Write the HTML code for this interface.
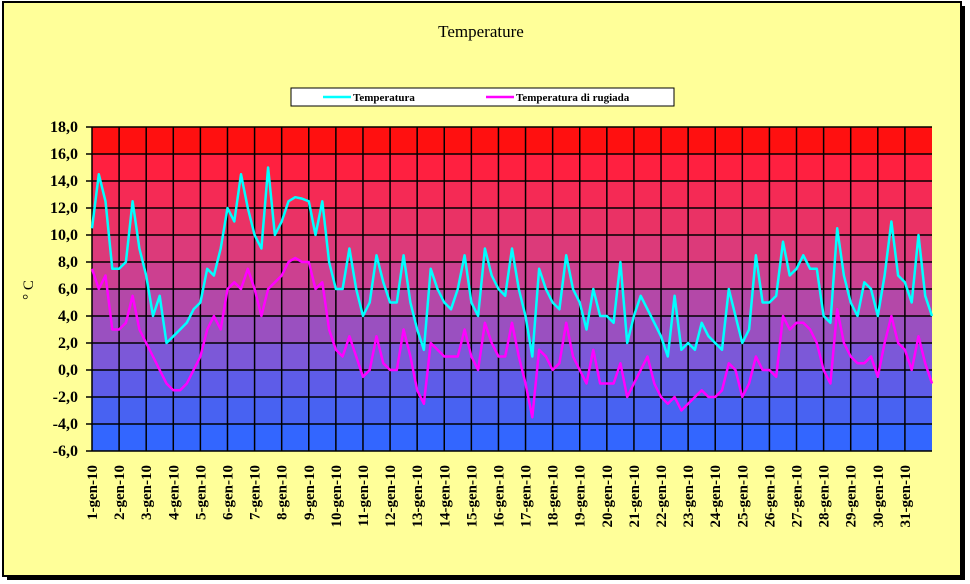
<!DOCTYPE html>
<html><head><meta charset="utf-8"><style>
body{margin:0;background:#fff;}
svg{display:block;font-family:"Liberation Serif",serif;}
</style></head><body>
<svg id="chart" width="970" height="584">
<rect x="7" y="6" width="958" height="574" fill="#000"/>
<rect x="3" y="2" width="958" height="574" fill="#ffff99" stroke="#000" stroke-width="2"/>
<text x="481" y="37" text-anchor="middle" font-size="17">Temperature</text>
<g>
<rect x="291" y="88" width="383" height="18" fill="#fff" stroke="#000"/>
<g><line x1="323" y1="97" x2="351" y2="97" stroke="#00ffff" stroke-width="2.5"/><text x="353" y="101" font-size="11" font-weight="bold">Temperatura</text></g>
<g><line x1="486" y1="97" x2="514" y2="97" stroke="#ff00ff" stroke-width="2.5"/><text x="516" y="101" font-size="11" font-weight="bold">Temperatura di rugiada</text></g>
</g>
<g id="bg"></g>
<g id="grid"></g>
<g id="series"></g>
<g id="yaxis"></g>
<g id="xaxis"></g>
<text transform="translate(33,290) rotate(-90)" text-anchor="middle" font-size="15">° C</text>
</svg>
<script>
const yTicks=[18,16,14,12,10,8,6,4,2,0,-2,-4,-6];
const dayLabels=[];for(let d=1;d<=31;d++)dayLabels.push(d+"-gen-10");
const temperatura=[10.5,14.5,12.5,7.5, 7.5,8,12.5,9, 7,4,5.5,2, 2.5,3,3.5,4.5, 5,7.5,7,9, 12,11,14.5,12, 10,9,15,10, 11,12.5,12.8,12.7, 12.5,10,12.5,8, 6,6,9,6, 4,5,8.5,6.5, 5,5,8.5,5, 3,1.5,7.5,6, 5,4.5,6,8.5, 5,4,9,7, 6,5.5,9,6, 4,1,7.5,6, 5,4.5,8.5,6, 5,3,6,4, 4,3.5,8,2, 4,5.5,4.5,3.5, 2.5,1,5.5,1.5, 2,1.5,3.5,2.5, 2,1.5,6,4, 2,3,8.5,5, 5,5.5,9.5,7, 7.5,8.5,7.5,7.5, 4,3.5,10.5,7, 5,4,6.5,6, 4,7,11,7, 6.5,5,10,5.5,4];
const rugiada=[7.5,6,7,3, 3,3.5,5.5,3, 2,1,0,-1, -1.5,-1.5,-1,0, 1,3,4,3, 6,6.5,6,7.5, 6,4,6,6.5, 7,8,8.3,8, 8,6,6.5,3, 1.5,1,2.5,1, -0.5,0,2.5,0.5, 0,0,3,1, -1.5,-2.5,2,1.5, 1,1,1,3, 1,0,3.5,2, 1,1,3.5,1, -1,-3.5,1.5,1, 0,0.5,3.5,1, 0,-1,1.5,-1, -1,-1,0.5,-2, -1,0,1,-1, -2,-2.5,-2,-3, -2.5,-2,-1.5,-2, -2,-1.5,0.5,0, -2,-1,1,0, 0,-0.5,4,3, 3.5,3.5,3,2, 0,-1,4.5,2, 1,0.5,0.5,1, -0.5,2,4,2, 1.5,0,2.5,0.5,-1];
const NS="http://www.w3.org/2000/svg";
const L=92,R=932,T=127,B=451,yMin=-6,yMax=18,nDays=31;
const dw=(R-L)/nDays;
function yS(v){return B-(v-yMin)/(yMax-yMin)*(B-T);}
function xS(i){return L+i/4*dw;}
function mk(tag,attrs,parent){const e=document.createElementNS(NS,tag);for(const k in attrs)e.setAttribute(k,attrs[k]);parent.appendChild(e);return e;}
const bg=document.getElementById('bg');
const bandCols=['#ff1010','#ff2040','#f52a55','#ea3265','#dc3a7a','#cc4090','#b448a8','#9a50c0','#7c58d8','#5e5ce8','#4862f2','#3366ff'];
let bi=0;
for(let v=yMax;v>yMin;v-=2){
  const r=mk('rect',{x:L,y:yS(v),width:R-L,height:yS(v-2)-yS(v),fill:bandCols[bi++]},bg);
  
  
}
const grid=document.getElementById('grid'),ya=document.getElementById('yaxis'),xa=document.getElementById('xaxis');
yTicks.forEach(v=>{
  const y=yS(v);
  const l=mk('line',{x1:L-6,y1:y,x2:R,y2:y,stroke:'#000','stroke-width':1.5},grid);
  
  
  const t=mk('text',{x:L-14,y:y+5,'text-anchor':'end','font-size':16,'font-weight':'bold'},ya);
  t.textContent=v.toFixed(1).replace('.',',');
  
  
});
dayLabels.forEach((lab,d)=>{
  const x=L+d*dw;
  if(d>0){const l=mk('line',{x1:x,y1:T,x2:x,y2:B,stroke:'#000','stroke-width':1.5},grid);
  
  }
  const t=mk('text',{transform:`translate(${x+5},465) rotate(-90)`,'text-anchor':'end','font-size':15,'font-weight':'bold'},xa);
  t.textContent=lab;
  
  
});
mk('line',{x1:L,y1:T,x2:L,y2:B,stroke:'#000','stroke-width':1.5},grid);
const se=document.getElementById('series');
[[temperatura,'#00ffff','line-temperatura'],[rugiada,'#ff00ff','line-rugiada']].forEach(([arr,col,nm])=>{
  const p=mk('polyline',{points:arr.map((v,i)=>xS(i).toFixed(1)+','+yS(v).toFixed(1)).join(' '),fill:'none',stroke:col,'stroke-width':2.5,'stroke-linejoin':'round'},se);
  
  
});
</script>
</body></html>
